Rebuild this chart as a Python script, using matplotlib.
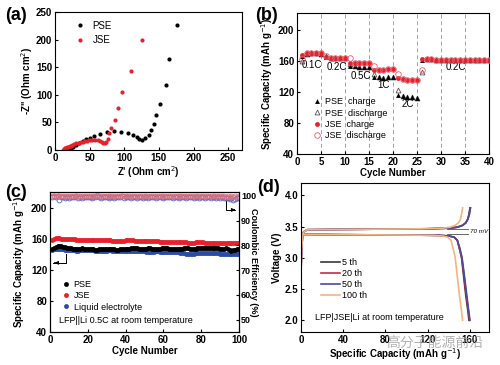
import numpy as np
import matplotlib.pyplot as plt

plt.rcParams['font.family'] = ['Liberation Sans', 'DejaVu Sans']
plt.rcParams['font.size'] = 7
plt.rcParams['axes.linewidth'] = 0.8

# ---------------- (a) Nyquist ----------------
pse_zr = [18, 20, 23, 26, 30, 35, 40, 45, 50, 57, 65, 75, 85, 95, 105, 112, 118, 122, 125,
          130, 135, 139, 143, 146, 152, 160, 165, 176]
pse_zi = [0, 2, 4, 6, 9, 13, 17, 20, 22, 25, 29, 32, 34, 33, 30, 27, 23, 20, 18,
          22, 28, 36, 48, 63, 84, 118, 165, 227]
jse_zr = [12, 13, 14, 15, 17, 19, 21, 23, 25, 28, 31, 34, 37, 40, 43, 46, 50, 54, 58, 62,
          65, 68, 70, 72, 74, 76, 78, 81, 86, 91, 97, 110, 125]
jse_zi = [0, 2, 3, 4, 5, 6, 7, 8, 9, 10, 12, 13, 14, 15, 16, 17, 18, 19, 19, 18,
          16, 14, 12, 12, 14, 20, 30, 40, 55, 77, 105, 143, 200]

# ---------------- (b) rate ----------------
cyc_b = np.arange(1, 41)
pse_chg = [167, 169, 170, 170, 169, 165, 164, 164, 164, 164,
           154, 154, 153, 153, 153, 139, 139, 138, 139, 139,
           116, 115, 114, 114, 113, 162, 163, 163, 162, 162,
           162, 162, 162, 162, 161, 161, 161, 161, 161, 161]
pse_dis = [160, 169, 170, 170, 169, 167, 164, 164, 164, 164,
           156, 154, 153, 153, 153, 143, 139, 138, 139, 139,
           123, 115, 114, 114, 113, 146, 163, 163, 162, 162,
           162, 162, 162, 162, 161, 161, 161, 161, 161, 161]
jse_chg = [168, 170, 170, 170, 170, 165, 164, 164, 164, 164,
           158, 158, 158, 158, 158, 148, 149, 149, 150, 150,
           138, 137, 136, 136, 135, 163, 163, 163, 162, 162,
           162, 162, 162, 162, 162, 162, 161, 161, 161, 161]
jse_dis = [163, 170, 170, 170, 170, 166, 164, 164, 164, 164,
           164, 158, 158, 158, 158, 154, 149, 149, 150, 150,
           144, 137, 136, 136, 135, 148, 163, 163, 162, 162,
           162, 162, 162, 162, 162, 162, 161, 161, 161, 161]
rate_lbl = ['0.1C', '0.2C', '0.5C', '1C', '2C', '0.2C']
rate_x = [3, 8.3, 13.2, 18, 23, 33]
rate_y = [155, 152, 141, 129, 104, 152]

# ---------------- (c) cycling ----------------
cyc_c = np.arange(1, 101)
cap_pse = [147, 148, 149, 150, 150, 150, 149, 149, 148, 148,
           148, 147, 147, 147, 147, 147, 148, 147, 147, 147,
           147, 147, 147, 146, 146, 147, 147, 147, 147, 147,
           147, 147, 147, 147, 146, 146, 147, 147, 147, 147,
           147, 147, 148, 148, 148, 148, 147, 147, 147, 147,
           147, 148, 148, 147, 147, 147, 147, 147, 148, 148,
           148, 148, 147, 147, 147, 147, 147, 147, 147, 147,
           148, 148, 148, 147, 147, 147, 147, 148, 148, 148,
           148, 148, 148, 148, 148, 148, 148, 148, 148, 147,
           147, 147, 148, 147, 146, 144, 145, 146, 147, 147]
cap_jse = [158, 160, 161, 161, 161, 160, 160, 160, 160, 159,
           159, 159, 159, 158, 158, 158, 158, 158, 158, 158,
           158, 158, 158, 158, 158, 158, 158, 158, 158, 158,
           158, 158, 157, 157, 157, 157, 157, 157, 157, 158,
           158, 158, 158, 158, 157, 157, 157, 157, 157, 157,
           157, 157, 157, 157, 157, 157, 157, 156, 156, 156,
           156, 156, 156, 156, 156, 156, 156, 156, 156, 156,
           156, 156, 155, 155, 155, 155, 156, 156, 156, 156,
           156, 155, 155, 155, 155, 155, 155, 155, 155, 155,
           155, 155, 155, 155, 154, 154, 154, 154, 154, 154]
cap_liq = [146, 147, 147, 147, 147, 147, 147, 146, 146, 146,
           146, 146, 145, 144, 144, 145, 145, 145, 145, 145,
           145, 145, 145, 144, 144, 144, 144, 144, 144, 144,
           145, 145, 144, 144, 144, 144, 144, 144, 144, 144,
           144, 144, 144, 144, 144, 144, 144, 144, 144, 144,
           143, 143, 143, 143, 143, 144, 144, 143, 143, 143,
           143, 143, 143, 143, 143, 143, 143, 143, 142, 142,
           142, 141, 140, 140, 141, 141, 142, 142, 142, 142,
           142, 142, 142, 142, 142, 142, 142, 142, 142, 141,
           141, 141, 141, 141, 140, 140, 140, 140, 141, 141]
ce_jse = [99.8, 99.9, 99.8, 99.7, 99.8, 99.9, 99.8, 99.8, 99.7, 99.8,
          99.8, 99.9, 99.8, 99.8, 99.7, 99.8, 99.9, 99.8, 99.8, 99.8,
          99.7, 99.8, 99.9, 99.8, 100.1, 99.8, 99.7, 99.8, 99.8, 99.9,
          99.8, 99.8, 99.7, 99.8, 99.8, 99.9, 99.8, 99.8, 99.7, 99.8,
          99.8, 99.8, 99.9, 99.8, 99.8, 99.7, 99.8, 99.8, 99.9, 99.8,
          99.8, 99.7, 99.8, 99.8, 99.9, 99.8, 99.8, 99.7, 99.8, 99.8,
          99.8, 99.9, 99.8, 99.7, 99.8, 99.8, 99.8, 99.9, 99.8, 99.7,
          99.8, 99.8, 99.8, 99.9, 99.8, 99.7, 99.8, 99.8, 99.8, 99.8,
          99.7, 99.8, 99.8, 99.9, 99.8, 99.7, 99.8, 99.8, 99.8, 99.7,
          99.8, 99.7, 99.6, 99.7, 99.6, 99.7, 99.6, 99.7, 99.6, 99.7]
ce_liq = [99.6, 99.9, 99.5, 99.8, 98.2, 99.4, 99.6, 99.2, 99.5, 99.0,
          99.4, 99.6, 99.3, 99.7, 99.1, 99.5, 99.2, 99.6, 99.3, 99.4,
          99.6, 99.2, 99.5, 99.3, 99.7, 99.4, 99.2, 99.6, 99.3, 99.5,
          99.1, 99.4, 99.6, 99.2, 99.5, 99.3, 99.4, 99.7, 99.2, 99.5,
          99.3, 99.6, 99.1, 99.4, 99.5, 99.2, 99.6, 99.3, 98.9, 99.4,
          99.5, 99.2, 99.6, 99.3, 99.4, 99.1, 99.5, 99.3, 99.6, 99.2,
          99.4, 99.5, 99.3, 99.6, 99.2, 99.4, 99.5, 99.1, 99.4, 99.3,
          99.5, 99.2, 99.6, 99.3, 99.4, 99.2, 99.5, 99.3, 99.1, 99.4,
          99.5, 99.2, 99.3, 99.5, 99.2, 99.4, 99.3, 99.1, 99.4, 99.2,
          99.3, 98.9, 99.2, 99.0, 98.6, 98.9, 98.3, 98.8, 99.0, 99.2]

# ---------------- (d) voltage profiles ----------------
prof_lbl = ['5 th', '20 th', '50 th', '100 th']
prof_col = ['#3b3540', '#c42c45', '#4a4c9c', '#f4b57c']
chg_q = [
    [0, 0.5, 1.5, 3, 6, 40, 80, 120, 140, 148, 153, 156, 158, 159, 160],
    [0, 0.5, 1.5, 3, 6, 40, 80, 120, 140, 148, 153, 156, 158, 159.3, 160.3],
    [0, 0.5, 1.5, 3, 6, 40, 80, 120, 140, 148, 153, 156, 158, 159.5, 160.5],
    [0, 0.5, 1.5, 3, 6, 40, 80, 115, 134, 141, 146, 149, 151, 152, 153],
]
chg_v = [2.75, 3.1, 3.35, 3.42, 3.45, 3.455, 3.46, 3.465, 3.475, 3.49, 3.52, 3.56, 3.62, 3.7, 3.8]
dis_q = [
    [0, 1, 3, 40, 100, 130, 140, 145, 148, 150, 152, 154, 156, 158, 159],
    [0, 1, 3, 40, 100, 130, 140, 145, 148, 150, 152.3, 154.5, 156.5, 158.5, 159.5],
    [0, 1, 3, 40, 100, 130, 140, 145, 148, 150.5, 152.5, 154.8, 157, 158.8, 160],
    [0, 1, 3, 40, 95, 125, 134, 139, 142, 144, 146, 148, 150, 152, 153],
]
dis_v = [3.42, 3.39, 3.375, 3.37, 3.365, 3.36, 3.35, 3.33, 3.28, 3.15, 3.0, 2.7, 2.4, 2.15, 2.0]

fig = plt.figure(figsize=(5.0, 3.65), dpi=100)
bold = dict(fontweight='bold')


def style(a):
    a.tick_params(direction='in', length=2.5, pad=2, labelsize=7)
    for t in a.get_xticklabels() + a.get_yticklabels():
        t.set_fontweight('bold')


# (a)
ax = fig.add_axes([0.11, 0.589, 0.374, 0.378])
ax.plot(pse_zr, pse_zi, 'o', color='black', ms=3, mec='none', label='PSE')
ax.plot(jse_zr, jse_zi, 'o', color='#e8202a', ms=3, mec='none', label='JSE')
ax.set_xlim(0, 270)
ax.set_ylim(0, 250)
ax.set_xticks([0, 50, 100, 150, 200, 250])
ax.set_yticks([0, 50, 100, 150, 200, 250])
ax.set_xlabel("Z' (Ohm cm$^2$)", labelpad=1, **bold)
ax.set_ylabel("-Z'' (Ohm cm$^2$)", labelpad=1, **bold)
ax.legend(loc='upper left', bbox_to_anchor=(0.05, 0.98), frameon=False, fontsize=7,
          handletextpad=0.3, borderaxespad=0.2, labelspacing=0.5)
style(ax)
fig.text(0.01, 0.945, '(a)', fontsize=13, **bold)

# (b)
ax = fig.add_axes([0.594, 0.578, 0.384, 0.386])
for xv in [5, 10, 15, 20, 25, 30, 35]:
    ax.axvline(xv, color='#a0a0a0', ls=(0, (4, 3)), lw=0.7, zorder=0)
ax.plot(cyc_b, pse_dis, '^', mfc='none', mec='#555555', ms=3.5, mew=0.6, label='PSE  discharge', zorder=2)
ax.plot(cyc_b, pse_chg, '^', color='black', ms=3.5, mec='none', label='PSE  charge', zorder=3)
ax.plot(cyc_b, jse_chg, 'o', color='#e8202a', ms=3.5, mec='none', label='JSE  charge', zorder=4)
ax.plot(cyc_b, jse_dis, 'o', mfc='none', mec='#e06070', ms=4, mew=0.6, label='JSE  discharge', zorder=5)
for s, xx, yy in zip(rate_lbl, rate_x, rate_y):
    ax.text(xx, yy, s, fontsize=7, ha='center', va='center')
ax.set_xlim(0, 40)
ax.set_ylim(40, 222)
ax.set_xticks([0, 5, 10, 15, 20, 25, 30, 35, 40])
ax.set_yticks([40, 80, 120, 160, 200])
ax.set_xlabel('Cycle Number', labelpad=1, **bold)
ax.set_ylabel('Specific Capacity (mAh g$^{-1}$)', labelpad=2, **bold)
h, l = ax.get_legend_handles_labels()
order = [1, 0, 2, 3]
ax.legend([h[i] for i in order], [l[i] for i in order], loc='lower left',
          bbox_to_anchor=(0.05, 0.06), frameon=False, fontsize=6.5,
          handletextpad=0.4, borderaxespad=0.2, labelspacing=0.25, handlelength=1.0)
style(ax)
fig.text(0.51, 0.945, '(b)', fontsize=13, **bold)

# (c)
ax = fig.add_axes([0.10, 0.090, 0.378, 0.384])
ax.plot(cyc_c, cap_liq, 'o', color='#2a4aa8', ms=3.5, mec='none', label='Liquid electrolyte', zorder=2)
ax.plot(cyc_c, cap_pse, 'o', color='black', ms=3.5, mec='none', label='PSE', zorder=3)
ax.plot(cyc_c, cap_jse, 'o', color='#e8202a', ms=3.5, mec='none', label='JSE', zorder=3)
ax.set_xlim(0, 100)
ax.set_ylim(40, 220)
ax.set_xticks([0, 20, 40, 60, 80, 100])
ax.set_yticks([40, 80, 120, 160, 200])
ax.set_xlabel('Cycle Number', labelpad=1, **bold)
ax.set_ylabel('Specific Capacity (mAh g$^{-1}$)', labelpad=3, **bold)
h, l = ax.get_legend_handles_labels()
order = [1, 2, 0]
ax.legend([h[i] for i in order], [l[i] for i in order], loc='upper left',
          bbox_to_anchor=(0.03, 0.41), frameon=False, fontsize=6.5,
          handletextpad=0.4, borderaxespad=0.2, labelspacing=0.25, handlelength=1.0)
ax.text(5, 55, 'LFP||Li 0.5C at room temperature', fontsize=6.5, va='center')
ax.plot([8.5, 8.5, 1.5], [141, 129, 129], color='black', lw=0.7)
ax.annotate('', xy=(1, 129), xytext=(4, 129),
            arrowprops=dict(arrowstyle='-|>', color='black', lw=0.7, mutation_scale=5))
ax.plot([93, 93, 98], [210, 197, 197], color='black', lw=0.7)
ax.annotate('', xy=(99.5, 197), xytext=(96, 197),
            arrowprops=dict(arrowstyle='-|>', color='black', lw=0.7, mutation_scale=5))
style(ax)
ax2 = ax.twinx()
ax2.plot(cyc_c, ce_liq, 'o', mfc='none', mec='#5068b8', ms=3.5, mew=0.6)
ax2.plot(cyc_c, ce_jse, 'o', mfc='none', mec='#e07080', ms=3.5, mew=0.6)
ax2.set_ylim(45, 101.5)
ax2.set_yticks([50, 60, 70, 80, 90, 100])
ax2.set_ylabel('Coulombic Efficiency (%)', rotation=270, labelpad=1, fontsize=6.5, **bold)
style(ax2)
ax2.tick_params(labelsize=6.5, pad=1.5)
fig.text(0.01, 0.46, '(c)', fontsize=13, **bold)

# (d)
ax = fig.add_axes([0.602, 0.090, 0.376, 0.409])
for q1, q2, c, lb in zip(chg_q, dis_q, prof_col, prof_lbl):
    ax.plot(q1, chg_v, color=c, lw=1.2, label=lb)
    ax.plot(q2, dis_v, color=c, lw=1.2)
ax.plot([138, 158], [3.455, 3.455], color='#505050', lw=0.6)
ax.plot([138, 158], [3.38, 3.38], color='#505050', lw=0.6)
ax.text(160, 3.42, '70 mV', fontsize=4.5, va='center', style='italic')
ax.set_xlim(0, 178)
ax.set_ylim(1.81, 4.2)
ax.set_xticks([0, 40, 80, 120, 160])
ax.set_yticks([2.0, 2.5, 3.0, 3.5, 4.0])
ax.set_xlabel('Specific Capacity (mAh g$^{-1}$)', labelpad=1, **bold)
ax.set_ylabel('Voltage (V)', labelpad=2, **bold)
ax.legend(loc='upper left', bbox_to_anchor=(0.08, 0.53), frameon=False, fontsize=6.5,
          handletextpad=0.3, borderaxespad=0.2, labelspacing=0.2, handlelength=2.0)
ax.text(13, 2.05, 'LFP|JSE|Li at room temperature', fontsize=6.5, va='center')
style(ax)
fig.text(0.515, 0.475, '(d)', fontsize=13, **bold)

fig.text(0.87, 0.06, '高分子能源前沿', fontsize=10, color='#a0a0a0', alpha=0.8,
         ha='center', va='center', family=['Noto Sans CJK SC', 'DejaVu Sans'])

fig.savefig('out.png', dpi=100)
